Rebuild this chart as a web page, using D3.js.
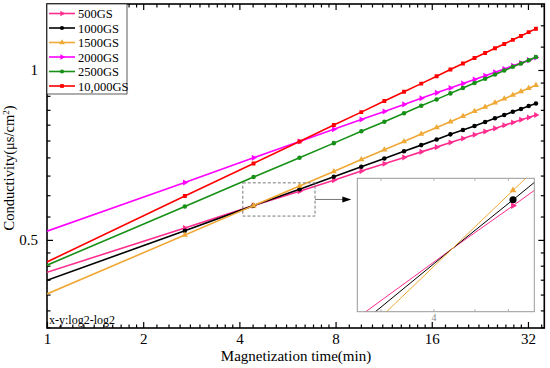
<!DOCTYPE html>
<html>
<head>
<meta charset="utf-8">
<script src="https://cdn.jsdelivr.net/npm/d3@7/dist/d3.min.js"></script>
<style>
  body { margin: 0; background: #fff; }
  text { font-family: "Liberation Serif", "Times New Roman", serif; }
</style>
</head>
<body>
<svg id="chart"></svg>
<script>
const width = 550;
const height = 368;

// 資料：時間 (min) 與各磁場強度的電導率
const times = [1, 2.7, 4.43, 6.17, 7.9, 9.63, 11.37, 13.1, 14.83, 16.57, 18.3, 20.03, 21.77, 23.5, 25.23, 26.97, 28.7, 30.43, 32.17, 33.9];
const seriesNames = ["500GS", "1000GS", "1500GS", "2000GS", "2500GS", "10,000GS"];
const gs500   = [0.438, 0.525, 0.575, 0.610, 0.638, 0.662, 0.682, 0.700, 0.716, 0.730, 0.744, 0.756, 0.768, 0.778, 0.788, 0.798, 0.807, 0.816, 0.824, 0.832];
const gs1000  = [0.424, 0.519, 0.575, 0.615, 0.647, 0.674, 0.697, 0.718, 0.736, 0.753, 0.769, 0.783, 0.796, 0.809, 0.821, 0.832, 0.843, 0.853, 0.863, 0.872];
const gs1500  = [0.401, 0.510, 0.575, 0.623, 0.661, 0.694, 0.722, 0.747, 0.770, 0.791, 0.810, 0.828, 0.845, 0.860, 0.875, 0.889, 0.903, 0.916, 0.928, 0.940];
const gs2000  = [0.518, 0.632, 0.699, 0.747, 0.785, 0.817, 0.844, 0.869, 0.891, 0.911, 0.929, 0.946, 0.962, 0.977, 0.991, 1.004, 1.017, 1.029, 1.041, 1.052];
const gs2500  = [0.451, 0.573, 0.646, 0.699, 0.742, 0.779, 0.810, 0.838, 0.864, 0.887, 0.909, 0.929, 0.948, 0.965, 0.982, 0.998, 1.013, 1.027, 1.041, 1.054];
const gs10000 = [0.457, 0.598, 0.683, 0.747, 0.799, 0.842, 0.881, 0.915, 0.946, 0.975, 1.002, 1.027, 1.050, 1.072, 1.093, 1.112, 1.131, 1.149, 1.167, 1.183];

const xTickLabels = [1, 2, 4, 8, 16, 32];
const yTickLabels = [0.5, 1];
const xMinorTicks = [1.1, 1.2, 1.3, 1.4, 1.5, 1.6, 1.7, 1.8, 1.9,
  2.2, 2.4, 2.6, 2.8, 3, 3.2, 3.4, 3.6, 3.8,
  4.4, 4.8, 5.2, 5.6, 6, 6.4, 6.8, 7.2, 7.6,
  8.8, 9.6, 10.4, 11.2, 12, 12.8, 13.6, 14.4, 15.2,
  17.6, 19.2, 20.8, 22.4, 24, 25.6, 27.2, 28.8, 30.4, 35.2];
const yMinorTicks = [0.35, 0.375, 0.4, 0.425, 0.45, 0.475,
  0.55, 0.6, 0.65, 0.7, 0.75, 0.8, 0.85, 0.9, 0.95, 1.1, 1.2, 1.3];

// 放大框 (data 座標) 與 inset 的範圍
const zoomBoxT = [4.1, 6.9];
const zoomBoxV = [0.551, 0.631];
const insetT = [2.644, 6.927];
const insetV = [0.5274, 0.6334];
const insetTicks = [3, 4, 5, 6];
const insetTickLabels = [4];

const colors = ["#ff2d8f", "#000000", "#f0a836", "#ff00ff", "#169016", "#ff0000"];
const symbols = ["triRight", "circle", "triUp", "triRight", "circle", "square"];
const allValues = [gs500, gs1000, gs1500, gs2000, gs2500, gs10000];

const series = seriesNames.map((name, i) => ({
  name: name,
  color: colors[i],
  symbol: symbols[i],
  points: times.map((t, j) => ({ t: t, v: allValues[i][j] }))
}));

const plotLeft = 47, plotRight = 544.3, plotTop = 4, plotBottom = 328;

const svg = d3.select('#chart')
  .attr('width', width)
  .attr('height', height);

const x = d3.scaleLog().base(2).domain([1, 36.0]).range([plotLeft, plotRight]);
const y = d3.scaleLog().base(2).domain([0.349, 1.309]).range([plotBottom, plotTop]);

function symbolPath(kind, size) {
  if (kind === 'circle') return d3.symbol(d3.symbolCircle, size)();
  if (kind === 'square') return d3.symbol(d3.symbolSquare, size)();
  return d3.symbol(d3.symbolTriangle, size)();
}
function symbolRotate(kind) {
  return kind === 'triRight' ? 90 : 0;
}

// clip
svg.append('clipPath').attr('id', 'plotClip')
  .append('rect').attr('x', plotLeft).attr('y', plotTop).attr('width', plotRight - plotLeft).attr('height', plotBottom - plotTop);

// axes: 所有刻度朝內
const gAxes = svg.append('g');
gAxes.append('g')
  .attr('transform', `translate(0,${plotBottom})`)
  .call(d3.axisBottom(x).tickValues(xTickLabels).tickFormat(d3.format('d')).tickSizeInner(-6).tickSizeOuter(0).tickPadding(5))
  .call(g => g.selectAll('text').attr('font-size', 15).attr('fill', '#000'));
gAxes.append('g')
  .attr('transform', `translate(0,${plotBottom})`)
  .call(d3.axisBottom(x).tickValues(xMinorTicks).tickFormat('').tickSizeInner(-3.5).tickSizeOuter(0));
gAxes.append('g')
  .attr('transform', `translate(0,${plotTop})`)
  .call(d3.axisTop(x).tickValues(xTickLabels).tickFormat('').tickSizeInner(-6).tickSizeOuter(0));
gAxes.append('g')
  .attr('transform', `translate(0,${plotTop})`)
  .call(d3.axisTop(x).tickValues(xMinorTicks).tickFormat('').tickSizeInner(-3.5).tickSizeOuter(0));

gAxes.append('g')
  .attr('transform', `translate(${plotLeft},0)`)
  .call(d3.axisLeft(y).tickValues(yTickLabels).tickFormat(d => String(d)).tickSizeInner(-6).tickSizeOuter(0).tickPadding(9))
  .call(g => g.selectAll('text').attr('font-size', 15).attr('fill', '#000'));
gAxes.append('g')
  .attr('transform', `translate(${plotLeft},0)`)
  .call(d3.axisLeft(y).tickValues(yMinorTicks).tickFormat('').tickSizeInner(-3.5).tickSizeOuter(0));
gAxes.append('g')
  .attr('transform', `translate(${plotRight},0)`)
  .call(d3.axisRight(y).tickValues(yTickLabels).tickFormat('').tickSizeInner(-6).tickSizeOuter(0));
gAxes.append('g')
  .attr('transform', `translate(${plotRight},0)`)
  .call(d3.axisRight(y).tickValues(yMinorTicks).tickFormat('').tickSizeInner(-3.5).tickSizeOuter(0));

gAxes.selectAll('.domain').remove();
gAxes.selectAll('.tick line').attr('stroke', '#000').attr('stroke-width', 1.2);

svg.append('rect')
  .attr('x', plotLeft).attr('y', plotTop).attr('width', plotRight - plotLeft).attr('height', plotBottom - plotTop)
  .attr('fill', 'none').attr('stroke', '#000').attr('stroke-width', 1.6);

// lines + markers
const line = d3.line().x(d => x(d.t)).y(d => y(d.v));
const gData = svg.append('g').attr('clip-path', 'url(#plotClip)');
series.forEach(s => {
  gData.append('path')
    .datum(s.points)
    .attr('d', line)
    .attr('fill', 'none')
    .attr('stroke', s.color)
    .attr('stroke-width', 1.6);
  gData.selectAll(null)
    .data(s.points.slice(1))
    .enter()
    .append('path')
    .attr('d', symbolPath(s.symbol, s.symbol === 'square' ? 15 : 16))
    .attr('transform', d => `translate(${x(d.t)},${y(d.v)}) rotate(${symbolRotate(s.symbol)})`)
    .attr('fill', s.color);
});

// 放大框與箭頭
const bx0 = x(zoomBoxT[0]), bx1 = x(zoomBoxT[1]);
const by0 = y(zoomBoxV[1]), by1 = y(zoomBoxV[0]);
svg.append('rect')
  .attr('x', bx0).attr('y', by0).attr('width', bx1 - bx0).attr('height', by1 - by0)
  .attr('fill', 'none').attr('stroke', '#777').attr('stroke-width', 1).attr('stroke-dasharray', '3,2');

const ix0 = 357.3, ix1 = 534.3, iy0 = 178.3, iy1 = 311.7;
const arrowY = (by0 + by1) / 2;
svg.append('line')
  .attr('x1', bx1).attr('y1', arrowY).attr('x2', ix0 - 12).attr('y2', arrowY)
  .attr('stroke', '#777').attr('stroke-width', 1);
svg.append('path')
  .attr('d', `M${ix0 - 6},${arrowY} L${ix0 - 15},${arrowY - 3} L${ix0 - 15},${arrowY + 3} Z`)
  .attr('fill', '#000');

// inset
const ix = d3.scaleLog().base(2).domain(insetT).range([ix0, ix1]);
const iy = d3.scaleLog().base(2).domain(insetV).range([iy1, iy0]);
svg.append('clipPath').attr('id', 'insetClip')
  .append('rect').attr('x', ix0).attr('y', iy0).attr('width', ix1 - ix0).attr('height', iy1 - iy0);
svg.append('rect')
  .attr('x', ix0).attr('y', iy0).attr('width', ix1 - ix0).attr('height', iy1 - iy0)
  .attr('fill', '#fff');

const gInset = svg.append('g').attr('clip-path', 'url(#insetClip)');
const insetLine = d3.line().x(d => ix(d.t)).y(d => iy(d.v));
series.slice(0, 3).forEach(s => {
  gInset.append('path')
    .datum(s.points)
    .attr('d', insetLine)
    .attr('fill', 'none')
    .attr('stroke', s.color)
    .attr('stroke-width', 1);
  gInset.selectAll(null)
    .data(s.points.filter(d => d.t > 5 && d.t < insetT[1]))
    .enter()
    .append('path')
    .attr('d', symbolPath(s.symbol, s.symbol === 'circle' ? 40 : 20))
    .attr('transform', d => `translate(${ix(d.t)},${iy(d.v)}) rotate(${symbolRotate(s.symbol)})`)
    .attr('fill', s.color);
});

svg.append('rect')
  .attr('x', ix0).attr('y', iy0).attr('width', ix1 - ix0).attr('height', iy1 - iy0)
  .attr('fill', 'none').attr('stroke', '#999').attr('stroke-width', 1);
const gInsetAxes = svg.append('g');
gInsetAxes.append('g').attr('transform', `translate(0,${iy1})`)
  .call(d3.axisBottom(ix).tickValues(insetTicks).tickFormat(d => insetTickLabels.includes(d) ? String(d) : '').tickSizeInner(-2.5).tickSizeOuter(0).tickPadding(2))
  .call(g => g.selectAll('text').attr('font-size', 10).attr('fill', '#888'));
gInsetAxes.append('g').attr('transform', `translate(0,${iy0})`)
  .call(d3.axisTop(ix).tickValues(insetTicks).tickFormat('').tickSizeInner(-2.5).tickSizeOuter(0));
gInsetAxes.selectAll('.domain').remove();
gInsetAxes.selectAll('.tick line').attr('stroke', '#aaa');

// 說明文字
svg.append('text')
  .attr('x', plotLeft + 2).attr('y', plotBottom - 4)
  .attr('font-size', 12)
  .text('x-y:log2-log2');

svg.append('text')
  .attr('x', 296).attr('y', 361)
  .attr('text-anchor', 'middle')
  .attr('font-size', 15)
  .text('Magnetization time(min)');

const yTitle = svg.append('text')
  .attr('transform', 'translate(14,168) rotate(-90)')
  .attr('text-anchor', 'middle')
  .attr('font-size', 14.5);
yTitle.append('tspan').text('Conductivity(μs/cm');
yTitle.append('tspan').attr('font-size', 9).attr('dy', -5).text('2');
yTitle.append('tspan').attr('dy', 5).text(')');

// legend
const legend = svg.append('g');
legend.append('rect')
  .attr('x', plotLeft).attr('y', plotTop).attr('width', 80).attr('height', 90)
  .attr('fill', '#fff').attr('stroke', '#333').attr('stroke-width', 0.8);
series.forEach((s, i) => {
  const ly = 13.5 + i * 14.5;
  legend.append('line')
    .attr('x1', plotLeft + 2).attr('x2', plotLeft + 28).attr('y1', ly).attr('y2', ly)
    .attr('stroke', s.color).attr('stroke-width', 1.6);
  legend.append('path')
    .attr('d', symbolPath(s.symbol, 14))
    .attr('transform', `translate(${plotLeft + 15},${ly}) rotate(${symbolRotate(s.symbol)})`)
    .attr('fill', s.color);
  legend.append('text')
    .attr('x', plotLeft + 31).attr('y', ly + 4.5)
    .attr('font-size', 12.5)
    .text(s.name);
});
</script>
</body>
</html>
